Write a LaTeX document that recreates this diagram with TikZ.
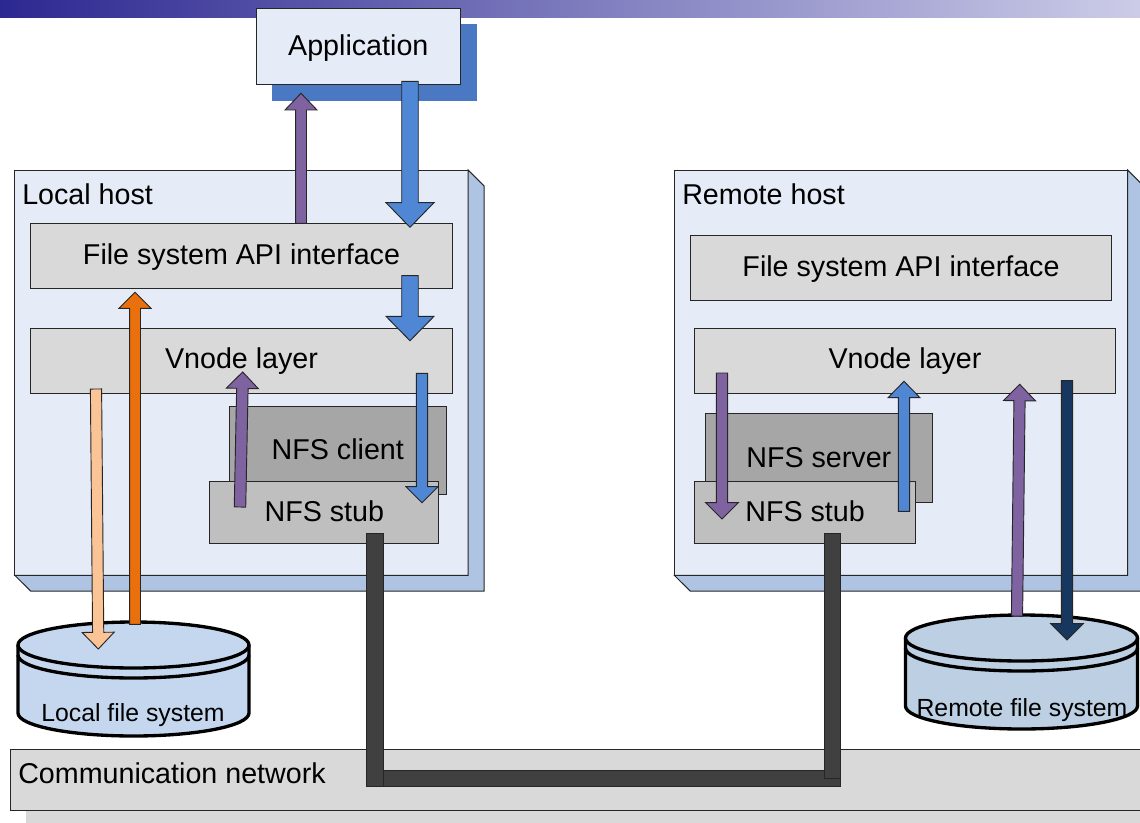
\documentclass[tikz,border=0pt]{standalone}
\usepackage{fontspec}
\setmainfont{Liberation Sans}
\usetikzlibrary{calc}
\definecolor{frontc}{HTML}{E6ECF7}
\definecolor{sidec}{HTML}{AFC4E3}
\definecolor{shadowc}{HTML}{4A78C2}
\definecolor{layerc}{HTML}{D9D9D9}
\definecolor{clientc}{HTML}{A6A6A6}
\definecolor{stubc}{HTML}{BFBFBF}
\definecolor{purplec}{HTML}{7F63A1}
\definecolor{bluec}{HTML}{5087D5}
\definecolor{orangec}{HTML}{E9700C}
\definecolor{peachc}{HTML}{FAC497}
\definecolor{navyc}{HTML}{17375E}
\definecolor{darkc}{HTML}{404040}
\definecolor{diskl}{HTML}{C5D7EF}
\definecolor{diskr}{HTML}{BDD0E3}
\definecolor{lineg}{HTML}{262626}
\definecolor{bannerl}{RGB}{44,40,145}
\definecolor{bannerr}{RGB}{204,204,232}
\tikzset{
  mainfont/.style={font=\fontsize{21.5}{26}\selectfont},
  smallfont/.style={font=\fontsize{18.6}{22}\selectfont},
  boxbase/.style={draw=lineg,line width=0.75pt,inner sep=0pt,outer sep=0pt,mainfont},
  appbox/.style={boxbase,fill=frontc},
  layerbox/.style={boxbase,fill=layerc},
  clientbox/.style={boxbase,fill=clientc},
  stubbox/.style={boxbase,fill=stubc},
  hostfront/.style={boxbase,fill=frontc},
  hostside/.style={draw=lineg,line width=0.75pt,fill=sidec},
  hostlabel/.style={mainfont,anchor=west,inner sep=0pt},
  disklabel/.style={smallfont,inner sep=0pt},
  diskline/.style={draw=black,line width=2.5pt},
  arrowline/.style={draw=black!85,line width=0.7pt,line join=miter},
}
% text moved by #1 without changing its box
\newcommand{\shifttext}[2]{\raisebox{#1}[\height][\depth]{#2}}
% block arrow: colour, from, to, shaft half width, head half width, head length
\newcommand{\blockarrow}[6]{%
  \coordinate (hb) at ($(#3)!#6!(#2)$);
  \path[arrowline,fill=#1]
    ($(#2)!#4!90:(#3)$) -- ($(hb)!#4!-90:(#2)$) -- ($(hb)!#5!-90:(#2)$) -- (#3)
    -- ($(hb)!#5!90:(#2)$) -- ($(hb)!#4!90:(#2)$) -- ($(#2)!#4!-90:(#3)$) -- cycle;
}
% thick bar connector: from, to, half width
\newcommand{\barlink}[3]{%
  \path[draw=lineg,line width=0.75pt,fill=darkc]
    ($(#1)!#3!90:(#2)$) -- ($(#2)!#3!-90:(#1)$) -- ($(#2)!#3!90:(#1)$) -- ($(#1)!#3!-90:(#2)$) -- cycle;
}
% disk: centre x, top ellipse centre y, x radius, colour, side-bottom y
\newcommand{\diskshape}[5]{%
  \path[fill=#4] (#1-#3,#2) -- (#1-#3,#5) arc[start angle=180,end angle=0,x radius=#3,y radius=23] -- (#1+#3,#2) -- cycle;
  \path[diskline,fill=#4] (#1,#2) ellipse[x radius=#3,y radius=23];
  \path[diskline] (#1-#3,#2) -- (#1-#3,#5) arc[start angle=180,end angle=0,x radius=#3,y radius=23] -- (#1+#3,#2);
  \path[diskline] (#1-#3,#2+10) arc[start angle=180,end angle=0,x radius=#3,y radius=23];
}
\begin{document}
\begin{tikzpicture}[x=0.75pt,y=-0.75pt]
\useasboundingbox (0,0) rectangle (1140,822);
\clip (0,0) rectangle (1140,822);
% banner
\shade[left color=bannerl,right color=bannerr] (0,0) rectangle (1140,17);

% application
\fill[shadowc] (272,24) rectangle (477,101);
\node[appbox,minimum width=153pt,minimum height=57pt] (app) at (358.3,46.3) {\shifttext{-1.5pt}{Application}};

% local host
\node[hostfront,minimum width=340pt,minimum height=304pt] (lhost) at (241.5,372.7) {};
\path[hostside] (lhost.north east) -- ++(16,16) -- ++(0,405) -- ++(-453.5,0) -- (lhost.south west) -- (lhost.south east) -- cycle;
\node[hostlabel] (lhostlbl) at (22,194) {Local host};
\node[layerbox,minimum width=316pt,minimum height=48.75pt] (lapi) at (241.5,255.8) {\shifttext{-0.75pt}{File system API interface}};
\node[layerbox,minimum width=316pt,minimum height=48.75pt] (lvn) at (241.5,360.5) {\shifttext{-0.75pt}{Vnode layer}};
\node[clientbox,minimum width=163pt,minimum height=66pt] (lclient) at (337.8,450.2) {\shifttext{0.75pt}{NFS client}};
\node[stubbox,minimum width=171.5pt,minimum height=46.25pt] (lstub) at (324.3,512.2) {\shifttext{0.75pt}{NFS stub}};

% remote host
\node[hostfront,minimum width=340pt,minimum height=304pt] (rhost) at (901,372.7) {};
\path[hostside] (rhost.north east) -- ++(16,16) -- ++(0,405) -- ++(-453.5,0) -- (rhost.south west) -- (rhost.south east) -- cycle;
\node[hostlabel] (rhostlbl) at (682,194) {Remote host};
\node[layerbox,minimum width=316pt,minimum height=48.75pt] (rapi) at (901,267.5) {\shifttext{-1.5pt}{File system API interface}};
\node[layerbox,minimum width=316pt,minimum height=48.75pt] (rvn) at (905,360.5) {\shifttext{-0.75pt}{Vnode layer}};
\node[clientbox,minimum width=170pt,minimum height=66.5pt] (rserver) at (818.8,458) {NFS server};
\node[stubbox,minimum width=166pt,minimum height=46.25pt] (rstub) at (805.1,512.2) {\shifttext{0.75pt}{NFS stub}};

% disks
\diskshape{133.5}{645}{115.5}{diskl}{713}
\node[disklabel] (ldisk) at (133,715) {Local file system};
\diskshape{1021.5}{638}{116}{diskr}{706}
\node[disklabel] (rdisk) at (1022,710) {Remote file system};

% network
\fill[layerc] (26,810) rectangle (1160,830);
\node[boxbase,fill=layerc,minimum width=870pt,minimum height=45.5pt,anchor=north west] (net) at (10,749.7) {};
\node[hostlabel] (netlbl) at (18,773) {Communication network};

% connector end points
\coordinate (a1s) at (301,223.3);   \coordinate (a1e) at (301,93.3);
\coordinate (a2s) at (410,81.3);    \coordinate (a2e) at (410,227.3);
\coordinate (a3s) at (410,275.7);   \coordinate (a3e) at (410,340.7);
\coordinate (a4s) at (135,624.3);   \coordinate (a4e) at (135,292.3);
\coordinate (a5s) at (96,389);      \coordinate (a5e) at (98.3,649);
\coordinate (a6s) at (240,507);     \coordinate (a6e) at (242.7,372);
\coordinate (a7s) at (422,373.3);   \coordinate (a7e) at (422,502.7);
\coordinate (a9s) at (722,373);     \coordinate (a9e) at (722,519);
\coordinate (a10s) at (904,511.3);  \coordinate (a10e) at (904,381.3);
\coordinate (a11s) at (1017,616);   \coordinate (a11e) at (1019.7,384.3);
\coordinate (a12s) at (1067,380.7); \coordinate (a12e) at (1067,640);
\coordinate (n1s) at (374.8,533.3); \coordinate (n1e) at (374.8,786);
\coordinate (n2s) at (832.5,533.3); \coordinate (n2e) at (832.5,778.3);
\coordinate (n3s) at (377,778);     \coordinate (n3e) at (840.7,778);

% network links
\barlink{n3s}{n3e}{6pt}
\barlink{n1s}{n1e}{6.3pt}
\barlink{n2s}{n2e}{6.1pt}

% block arrows
\blockarrow{purplec}{a1s}{a1e}{4.1pt}{12pt}{12.5pt}
\blockarrow{bluec}{a2s}{a2e}{6.2pt}{18pt}{18.5pt}
\blockarrow{bluec}{a3s}{a3e}{6.2pt}{18pt}{18.3pt}
\blockarrow{orangec}{a4s}{a4e}{4.1pt}{12pt}{12pt}
\blockarrow{peachc}{a5s}{a5e}{4.2pt}{12pt}{12.5pt}
\blockarrow{purplec}{a6s}{a6e}{4.3pt}{12pt}{12.3pt}
\blockarrow{bluec}{a7s}{a7e}{4.2pt}{12pt}{12pt}
\blockarrow{purplec}{a9s}{a9e}{4.2pt}{12.3pt}{12.3pt}
\blockarrow{bluec}{a10s}{a10e}{4.2pt}{12pt}{12.3pt}
\blockarrow{purplec}{a11s}{a11e}{4.2pt}{12pt}{12.3pt}
\blockarrow{navyc}{a12s}{a12e}{4.2pt}{12.3pt}{12.3pt}
\end{tikzpicture}
\end{document}
